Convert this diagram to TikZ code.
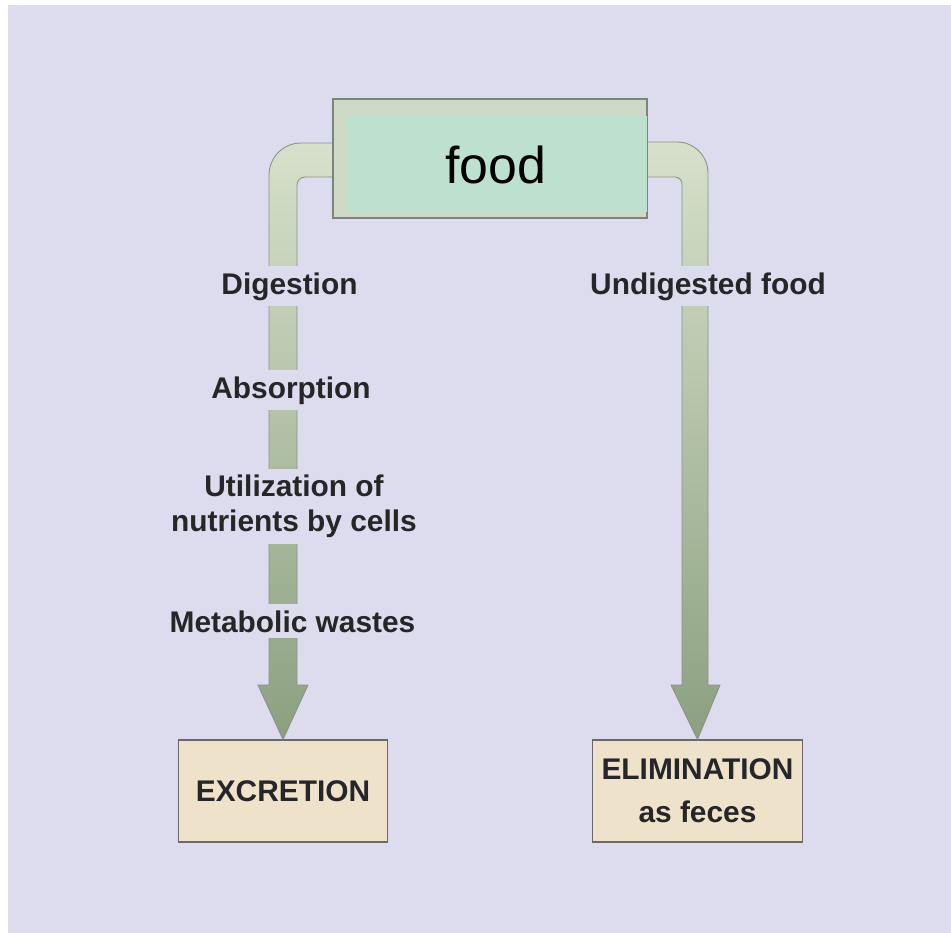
\documentclass[tikz,border=0pt]{standalone}
\usepackage{fontspec}
\setmainfont{Liberation Sans}
\definecolor{bg}{RGB}{220,220,238}
\definecolor{txt}{RGB}{38,38,40}
\definecolor{pipetop}{RGB}{214,224,202}
\definecolor{pipebot}{RGB}{140,160,128}
\definecolor{pipeedge}{RGB}{140,146,140}
\definecolor{foodouter}{RGB}{206,218,198}
\definecolor{foodinner}{RGB}{190,224,207}
\definecolor{frameedge}{RGB}{125,132,128}
\definecolor{tan}{RGB}{238,226,202}
\definecolor{tanedge}{RGB}{105,105,105}
\begin{document}
\begin{tikzpicture}[x=0.02cm,y=-0.02cm,
  lbl/.style={font=\fontsize{17}{19.8}\selectfont\bfseries, text=txt, fill=bg, inner xsep=2pt, inner ysep=3.4pt},
  endbox/.style={draw=tanedge, fill=tan, line width=0.6pt, minimum width=4.19cm, minimum height=2.04cm, inner sep=0pt, align=center, text=txt},
  pipe/.style={top color=pipetop, bottom color=pipebot, draw=pipeedge, line width=0.5pt}]
\useasboundingbox (0,0) rectangle (951,933);
\fill[white] (0,0) rectangle (951,933);
\fill[bg] (8,5) rectangle (951,933);

% end boxes (named first so the pipes can reach them)
\node[endbox, font=\fontsize{17}{20}\selectfont\bfseries] (excr) at (283,791) {EXCRETION};
\node[endbox, font=\fontsize{17}{24.4}\selectfont\bfseries] (elim) at (697.5,791) {ELIMINATION\\as feces};

% left pipe
\shade[pipe] (345,143) -- (301,143) arc[start angle=270, end angle=180, radius=32]
  -- (269,685) -- (258,685) -- (excr.north) -- (308,685) -- (297,685) -- (297,185)
  arc[start angle=180, end angle=270, radius=8] -- (345,177) -- cycle;
% right pipe
\shade[pipe] (640,142) -- (677,142) arc[start angle=270, end angle=360, radius=31]
  -- (708,685) -- (720,685) -- (elim.north) -- (671,685) -- (682,685) -- (682,184)
  arc[start angle=0, end angle=-90, radius=7] -- (640,177) -- cycle;

% food box
\node[draw=frameedge, fill=foodouter, line width=0.8pt, minimum width=6.28cm, minimum height=2.38cm, inner sep=0pt] (food) at (490,158.5) {};
\fill[foodinner] (347,116) rectangle (646.5,212);
\node[anchor=base, font=\fontsize{29.5}{34}\selectfont, text=black, inner sep=0pt] (foodlbl) at (496,183) {food};

% labels along the pipes
\node[lbl, anchor=base] (dig) at (289.5,294) {Digestion};
\node[lbl, anchor=base] (abs) at (291,398) {Absorption};
\node[lbl, align=center, anchor=center] (util) at (294,506.5) {Utilization of\\nutrients by cells};
\node[lbl, anchor=base] (meta) at (292.5,632) {Metabolic wastes};
\node[lbl, anchor=base] (undig) at (708,294) {Undigested food};
\end{tikzpicture}
\end{document}
